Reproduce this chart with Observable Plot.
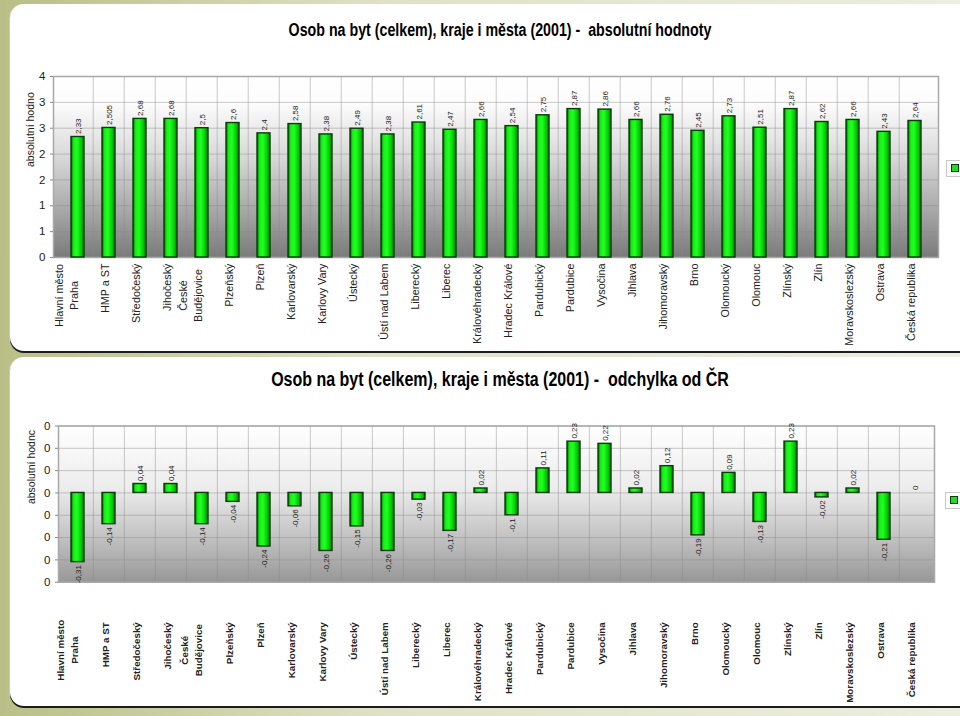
<!DOCTYPE html>
<html><head><meta charset="utf-8">
<script src="https://cdn.jsdelivr.net/npm/d3@7"></script>
<script src="https://cdn.jsdelivr.net/npm/@observablehq/plot@0.6"></script>
<style>
body{margin:0;background:#fff}
#page{position:relative;width:960px;height:716px;overflow:hidden;background:linear-gradient(to right,#b9bf86,#dfe2c6 40%,#eceedf);font-family:"Liberation Sans",Arial,sans-serif}
.card{position:absolute;left:10px;width:980px;background:#fff;border-radius:14px 0 0 14px;box-shadow:0 2px 0 #1c1c1c,-1px 0 0 #c9ccb2}
#card1{top:4px;height:347px}
#card2{top:357px;height:349px}
.title{position:absolute;left:0;width:1000px;text-align:center;font-family:"Liberation Sans",Arial,sans-serif;font-weight:bold;color:#000;white-space:pre;line-height:1;transform-origin:500px 50%}
#t1{top:21px;font-size:18px;transform:scaleX(0.79)}
#t2{top:370px;font-size:19.5px;transform:scaleX(0.82)}
.plot{position:absolute;left:0}
.lgbox{position:absolute;width:20px;height:15px;border:1px solid #c8c8c8;background:#fff}
.lgsq{position:absolute;width:6px;height:6px;background:#1be01b;border:1px solid #0b3d0b}
</style></head>
<body>
<svg width="0" height="0" style="position:absolute">
<defs>
<linearGradient id="bgTop" x1="0" y1="0" x2="0" y2="1">
<stop offset="0" stop-color="#ffffff"/><stop offset="0.15" stop-color="#fcfcfc"/><stop offset="0.45" stop-color="#d8d8d8"/><stop offset="0.75" stop-color="#a6a6a6"/><stop offset="1" stop-color="#7a7a7a"/>
</linearGradient>
<linearGradient id="bgBot" x1="0" y1="0" x2="0" y2="1">
<stop offset="0" stop-color="#ffffff"/><stop offset="0.4" stop-color="#ececec"/><stop offset="0.7" stop-color="#c4c4c4"/><stop offset="1" stop-color="#979797"/>
</linearGradient>
<linearGradient id="barGrad" x1="0" y1="0" x2="1" y2="0">
<stop offset="0" stop-color="#006a00"/><stop offset="0.2" stop-color="#13f013"/><stop offset="0.45" stop-color="#22ff22"/><stop offset="0.8" stop-color="#00c800"/><stop offset="1" stop-color="#006000"/>
</linearGradient>
</defs>
</svg>
<div id="page">
<div class="card" id="card1"></div>
<div class="card" id="card2"></div>
<div class="title" id="t1">Osob na byt (celkem), kraje i města (2001) -  absolutní hodnoty</div>
<div class="title" id="t2">Osob na byt (celkem), kraje i města (2001) -  odchylka od ČR</div>
<div class="lgbox" style="left:946px;top:160px"></div><div class="lgsq" style="left:951px;top:164px"></div>
<div class="lgbox" style="left:945px;top:492px"></div><div class="lgsq" style="left:950px;top:496px"></div>
</div>
<script>
const categories = ["Hlavní město\nPraha","HMP a ST","Středočeský","Jihočeský","České\nBudějovice","Plzeňský","Plzeň","Karlovarský","Karlovy Vary","Ústecký","Ústí nad Labem","Liberecký","Liberec","Královéhradecký","Hradec Králové","Pardubický","Pardubice","Vysočina","Jihlava","Jihomoravský","Brno","Olomoucký","Olomouc","Zlínský","Zlín","Moravskoslezský","Ostrava","Česká republika"];
const absoluteValues = [2.33,2.505,2.68,2.68,2.5,2.6,2.4,2.58,2.38,2.49,2.38,2.61,2.47,2.66,2.54,2.75,2.87,2.86,2.66,2.76,2.45,2.73,2.51,2.87,2.62,2.66,2.43,2.64];
const deviationValues = [-0.31,-0.14,0.04,0.04,-0.14,-0.04,-0.24,-0.06,-0.26,-0.15,-0.26,-0.03,-0.17,0.02,-0.1,0.11,0.23,0.22,0.02,0.12,-0.19,0.09,-0.13,0.23,-0.02,0.02,-0.21,0];
const topTicks = [0,0.5,1,1.5,2,2.5,3,3.5];
const topTickLabels = ["0","1","1","2","2","3","3","4"];
const bottomTicks = [-0.4,-0.3,-0.2,-0.1,0,0.1,0.2,0.3];
const bottomTickLabels = ["0","0","0","0","0","0","0","0"];
const yAxisTitleTop = "absolutní hodno";
const yAxisTitleBottom = "absolutní hodnc";

const fmt = v => String(v).replace(".", ",");
const SANS = '"Liberation Sans",Arial,sans-serif';

function panel({values, ticks, tickLabels, domain, grad, yTitle, height, mt, mb, ml, mr, labelDy, labelMidDy, labelBold, titleDx}) {
  const data = categories.map((c, i) => ({cat: c, v: values[i]}));
  const step = (960 - ml - mr) / categories.length;
  const lab = new Map(ticks.map((t, i) => [t, tickLabels[i]]));
  const single = categories.filter(c => !c.includes("\n"));
  const multi = categories.filter(c => c.includes("\n"));
  const labStyle = {frameAnchor: "bottom", rotate: -90, fontSize: labelBold ? 9.8 : 10.8, fontWeight: labelBold ? "bold" : "normal", lineHeight: 1.4, fill: "#222"};
  return Plot.plot({
    width: 960, height, marginTop: mt, marginBottom: mb, marginLeft: ml, marginRight: mr,
    style: {background: "transparent", fontFamily: SANS, overflow: "visible"},
    x: {type: "band", domain: categories, padding: 0, axis: null},
    y: {domain, axis: null},
    marks: [
      Plot.frame({fill: `url(#${grad})`}),
      Plot.ruleY(ticks, {stroke: "#8a8a8a", strokeOpacity: 0.45}),
      Plot.ruleX(categories.slice(1), {x: d => d, dx: -step / 2, stroke: "#8a8a8a", strokeOpacity: 0.45}),
      Plot.frame({stroke: "#a8a8a8", strokeWidth: 1.5}),
      Plot.barY(data, {x: "cat", y: "v", fill: "url(#barGrad)", stroke: "#0b3a0b", strokeWidth: 1.4, insetLeft: 9, insetRight: 9}),
      Plot.text(data.filter(d => d.v >= 0), {x: "cat", y: "v", text: d => fmt(d.v), rotate: -90, textAnchor: "start", dy: -3, fontSize: 8, fill: "#222"}),
      Plot.text(data.filter(d => d.v < 0), {x: "cat", y: "v", text: d => fmt(d.v), rotate: -90, textAnchor: "end", dy: 3, fontSize: 8, fill: "#222"}),
      Plot.axisY(ticks, {label: null, tickFormat: d => lab.get(d), tickSize: 3, tickPadding: 5, fontSize: 11.5, stroke: "#888", fill: "#222"}),
      Plot.text([yTitle], {frameAnchor: "left", dx: titleDx, rotate: -90, fontSize: 10.5, fill: "#222"}),
      Plot.text(single, {x: d => d, textAnchor: "end", dy: labelDy, ...labStyle}),
      Plot.text(multi, {x: d => d, textAnchor: "middle", dy: labelMidDy, ...labStyle})
    ]
  });
}

const topPlot = panel({values: absoluteValues, ticks: topTicks, tickLabels: topTickLabels, domain: [0, 3.5], grad: "bgTop", yTitle: yAxisTitleTop, height: 350, mt: 76, mb: 93, ml: 53, mr: 22, labelDy: 6, labelMidDy: 38, labelBold: false, titleDx: -23});
topPlot.classList.add("plot"); topPlot.style.top = "0px";
const botPlot = panel({values: deviationValues, ticks: bottomTicks, tickLabels: bottomTickLabels, domain: [-0.4, 0.3], grad: "bgBot", yTitle: yAxisTitleBottom, height: 359, mt: 68.5, mb: 134.3, ml: 58, mr: 26, labelDy: 40, labelMidDy: 68, labelBold: true, titleDx: -27});
botPlot.classList.add("plot"); botPlot.style.top = "357px";
const page = document.getElementById("page");
page.insertBefore(topPlot, document.getElementById("t1"));
page.insertBefore(botPlot, document.getElementById("t1"));
</script>
</body></html>
